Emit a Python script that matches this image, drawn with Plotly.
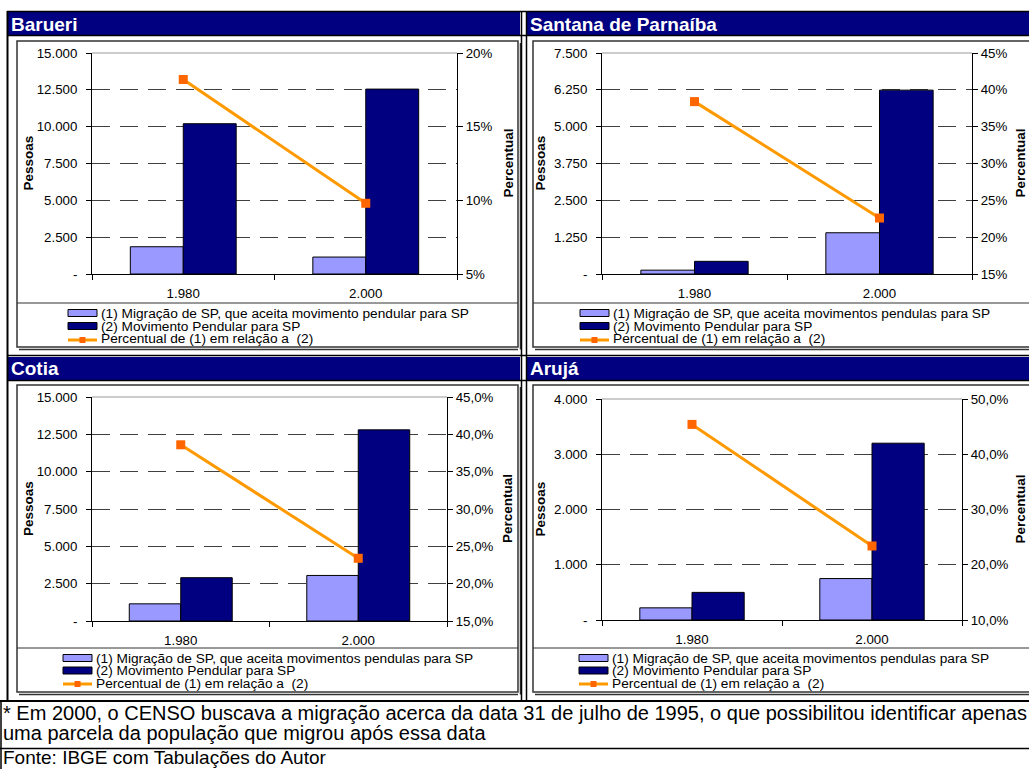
import plotly.graph_objects as go

W, H = 1029, 769
FONT = "Liberation Sans, Arial, sans-serif"

LIGHT = "#9999FF"
DARK = "#000080"
LINE = "#FF9900"
MARK = "#FF6600"

anos = ["1.980", "2.000"]

# Barueri
barueri_migracao = [1850, 1150]
barueri_pendular = [10200, 12550]
barueri_percentual = [18.2, 9.8]
barueri_pessoas_vals = [0, 2500, 5000, 7500, 10000, 12500, 15000]
barueri_pessoas_text = ["-", "2.500", "5.000", "7.500", "10.000", "12.500", "15.000"]
barueri_pct_vals = [5, 10, 15, 20]
barueri_pct_text = ["5%", "10%", "15%", "20%"]

# Santana de Parnaíba
santana_migracao = [130, 1400]
santana_pendular = [430, 6240]
santana_percentual = [38.4, 22.6]
santana_pessoas_vals = [0, 1250, 2500, 3750, 5000, 6250, 7500]
santana_pessoas_text = ["-", "1.250", "2.500", "3.750", "5.000", "6.250", "7.500"]
santana_pct_vals = [15, 20, 25, 30, 35, 40, 45]
santana_pct_text = ["15%", "20%", "25%", "30%", "35%", "40%", "45%"]

# Cotia
cotia_migracao = [1150, 3050]
cotia_pendular = [2900, 12800]
cotia_percentual = [38.6, 23.4]
cotia_pessoas_vals = [0, 2500, 5000, 7500, 10000, 12500, 15000]
cotia_pessoas_text = ["-", "2.500", "5.000", "7.500", "10.000", "12.500", "15.000"]
cotia_pct_vals = [15, 20, 25, 30, 35, 40, 45]
cotia_pct_text = ["15,0%", "20,0%", "25,0%", "30,0%", "35,0%", "40,0%", "45,0%"]

# Arujá
aruja_migracao = [220, 750]
aruja_pendular = [500, 3200]
aruja_percentual = [45.4, 23.4]
aruja_pessoas_vals = [0, 1000, 2000, 3000, 4000]
aruja_pessoas_text = ["-", "1.000", "2.000", "3.000", "4.000"]
aruja_pct_vals = [10, 20, 30, 40, 50]
aruja_pct_text = ["10,0%", "20,0%", "30,0%", "40,0%", "50,0%"]

legenda_barueri = [
    "(1) Migração de SP, que aceita movimento pendular para SP",
    "(2) Movimento Pendular para SP",
    "Percentual de (1) em relação a\u00a0 (2)",
]
legenda_outros = [
    "(1) Migração de SP, que aceita movimentos pendulas para SP",
    "(2) Movimento Pendular para SP",
    "Percentual de (1) em relação a\u00a0 (2)",
]

nota_1 = ("* Em 2000, o CENSO buscava a migração acerca da data 31 de julho de 1995, "
          "o que possibilitou identificar apenas")
nota_2 = "uma parcela da população que migrou após essa data"
fonte = "Fonte: IBGE com Tabulações do Autor"

panels = [
    dict(title="Barueri", mig=barueri_migracao, pend=barueri_pendular, pct=barueri_percentual,
         lv=barueri_pessoas_vals, lt=barueri_pessoas_text, rv=barueri_pct_vals, rt=barueri_pct_text,
         leg=legenda_barueri),
    dict(title="Santana de Parnaíba", mig=santana_migracao, pend=santana_pendular, pct=santana_percentual,
         lv=santana_pessoas_vals, lt=santana_pessoas_text, rv=santana_pct_vals, rt=santana_pct_text,
         leg=legenda_outros),
    dict(title="Cotia", mig=cotia_migracao, pend=cotia_pendular, pct=cotia_percentual,
         lv=cotia_pessoas_vals, lt=cotia_pessoas_text, rv=cotia_pct_vals, rt=cotia_pct_text,
         leg=legenda_outros),
    dict(title="Arujá", mig=aruja_migracao, pend=aruja_pendular, pct=aruja_percentual,
         lv=aruja_pessoas_vals, lt=aruja_pessoas_text, rv=aruja_pct_vals, rt=aruja_pct_text,
         leg=legenda_outros),
]

# pixel geometry of each panel
geometry = [
    dict(plot=(92, 53, 457, 274), box=(17, 41, 518, 347), bar=(8, 12, 520, 35),
         sep=303, lx=68, rows=(313, 326, 339), pes_x=28, per_x=508),
    dict(plot=(602, 53, 972, 274), box=(533, 41, 1040, 347), bar=(527, 12, 1029, 35),
         sep=303, lx=580, rows=(313, 326, 339), pes_x=540, per_x=1020),
    dict(plot=(92, 397, 447, 621), box=(17, 385, 518, 692), bar=(8, 357, 520, 380),
         sep=648, lx=63, rows=(658, 670.5, 683), pes_x=28, per_x=507),
    dict(plot=(602, 399, 962, 620), box=(533, 385, 1040, 692), bar=(527, 357, 1029, 380),
         sep=648, lx=579, rows=(658, 670.5, 683), pes_x=540, per_x=1020),
]


def X(px):
    return px / W


def Y(py):
    return 1 - py / H


fig = go.Figure()
shapes = []
annotations = []
axes = {}


def rect(x0, y0, x1, y1, fill=None, line=None, width=1, layer="below"):
    shapes.append(dict(type="rect", xref="paper", yref="paper", layer=layer,
                       x0=X(x0), x1=X(x1), y0=Y(y0), y1=Y(y1),
                       fillcolor=fill if fill else "rgba(0,0,0,0)",
                       line=dict(color=line if line else "rgba(0,0,0,0)", width=width if line else 0)))


def hline(x0, x1, y, color="black", width=1, layer="above"):
    shapes.append(dict(type="line", xref="paper", yref="paper", layer=layer,
                       x0=X(x0), x1=X(x1), y0=Y(y), y1=Y(y), line=dict(color=color, width=width)))


def vline(x, y0, y1, color="black", width=1, layer="above"):
    shapes.append(dict(type="line", xref="paper", yref="paper", layer=layer,
                       x0=X(x), x1=X(x), y0=Y(y0), y1=Y(y1), line=dict(color=color, width=width)))


def text(x, y, s, size=13, color="black", bold=False, xanchor="left", angle=0):
    annotations.append(dict(xref="paper", yref="paper", x=X(x), y=Y(y), text=f"<b>{s}</b>" if bold else s,
                            showarrow=False, xanchor=xanchor, yanchor="middle", textangle=angle,
                            font=dict(family=FONT, size=size, color=color)))


for i, (p, g) in enumerate(zip(panels, geometry), start=1):
    xa = "x" if i == 1 else f"x{i}"
    yl = "y" if i == 1 else f"y{2 * i - 1}"
    yr = f"y{2 * i}"
    px0, py0, px1, py1 = g["plot"]

    fig.add_trace(go.Bar(x=anos, y=p["mig"], xaxis=xa, yaxis=yl, showlegend=False,
                         marker=dict(color=LIGHT, line=dict(color="black", width=1))))
    fig.add_trace(go.Bar(x=anos, y=p["pend"], xaxis=xa, yaxis=yl, showlegend=False,
                         marker=dict(color=DARK, line=dict(color="black", width=1))))
    fig.add_trace(go.Scatter(x=anos, y=p["pct"], xaxis=xa, yaxis=yr, showlegend=False,
                             mode="lines+markers", line=dict(color=LINE, width=3),
                             marker=dict(symbol="square", size=9, color=MARK)))

    tickfont = dict(family=FONT, size=13.3, color="black")
    axes["xaxis" if i == 1 else f"xaxis{i}"] = dict(
        domain=[X(px0), X(px1)], anchor=yl, type="category", range=[-0.5, 1.5],
        tickson="boundaries", ticks="outside", ticklen=5, tickcolor="black",
        showline=True, linecolor="black", linewidth=1, showgrid=False, zeroline=False,
        tickfont=tickfont, ticklabelstandoff=7, fixedrange=True)
    axes["yaxis" if i == 1 else f"yaxis{2 * i - 1}"] = dict(
        domain=[Y(py1), Y(py0)], anchor=xa, range=[p["lv"][0], p["lv"][-1]],
        tickmode="array", tickvals=p["lv"], ticktext=p["lt"],
        ticks="outside", ticklen=5, tickcolor="black", ticklabelstandoff=6,
        showline=True, linecolor="black", linewidth=1, zeroline=False,
        showgrid=True, gridcolor="#404040", gridwidth=1, griddash="18px,10px",
        tickfont=tickfont, fixedrange=True)
    axes[f"yaxis{2 * i}"] = dict(
        overlaying=yl, side="right", anchor=xa, range=[p["rv"][0], p["rv"][-1]],
        tickmode="array", tickvals=p["rv"], ticktext=p["rt"],
        ticks="outside", ticklen=5, tickcolor="black", ticklabelstandoff=0,
        showline=True, linecolor="black", linewidth=1, zeroline=False, showgrid=False,
        tickfont=tickfont, fixedrange=True)

    # panel frame
    bx0, by0, bx1, by1 = g["box"]
    rect(bx0, by0, bx1, by1, fill="white", line="#333333", width=1.5)
    hline(bx0 + 2, bx1, by1 + 2.5, color="#333333", width=1.5)
    vline(bx1 + 2.5, by0 + 2, by1 + 2.5, color="#333333", width=1.5)
    hline(px0, px1, py0, color="#999999", width=1, layer="below")

    # header bar
    tx0, ty0, tx1, ty1 = g["bar"]
    rect(tx0, ty0, tx1, ty1, fill=DARK)
    text(tx0 + 1, (ty0 + ty1) / 2 + 0.5, p["title"], size=19, color="white", bold=True)

    # axis titles
    text(g["pes_x"], (py0 + py1) / 2, "Pessoas", size=13.5, bold=True, xanchor="center", angle=-90)
    text(g["per_x"], (py0 + py1) / 2, "Percentual", size=13.5, bold=True, xanchor="center", angle=-90)

    # legend
    hline(bx0, bx1, g["sep"], color="#333333", width=1)
    lx = g["lx"]
    r1, r2, r3 = g["rows"]
    rect(lx, r1 - 3.5, lx + 29, r1 + 3.5, fill=LIGHT, line="black", width=1, layer="above")
    rect(lx, r2 - 3.5, lx + 29, r2 + 3.5, fill=DARK, line="black", width=1, layer="above")
    hline(lx, lx + 29, r3 + 1, color=LINE, width=3)
    shapes.append(dict(type="rect", xref="paper", yref="paper", layer="above",
                       x0=X(lx + 11.5), x1=X(lx + 17.5), y0=Y(r3 + 4), y1=Y(r3 - 2),
                       fillcolor=MARK, line=dict(width=0)))
    for r, s in zip(g["rows"], p["leg"]):
        text(lx + 31, r, s, size=13.7)

# table borders
hline(7, W, 11.5, width=1.5)
hline(7, W, 35.5, width=1.5)
hline(7, W, 355.5, width=1.5)
hline(7, W, 380.5, width=1.5)
vline(7.5, 11, 701, width=2)
vline(521.5, 11, 701, width=1.5)
vline(526.5, 11, 701, width=1.5)
hline(0, W, 701, width=2)
hline(0, W, 748.5, width=1.5)
vline(1, 700, H, width=1.5)

# notes below the table
text(1, 713, nota_1, size=20)
text(1, 733, nota_2, size=20)
text(1, 757, fonte, size=19)

fig.update_layout(
    width=W, height=H, margin=dict(l=0, r=0, t=0, b=0),
    template="none", paper_bgcolor="white", plot_bgcolor="rgba(0,0,0,0)",
    barmode="group", bargap=0.42, bargroupgap=0,
    showlegend=False, shapes=shapes, annotations=annotations,
    font=dict(family=FONT, size=13, color="black"),
    **axes,
)

fig.write_html("out.html", config={"displayModeBar": False})
